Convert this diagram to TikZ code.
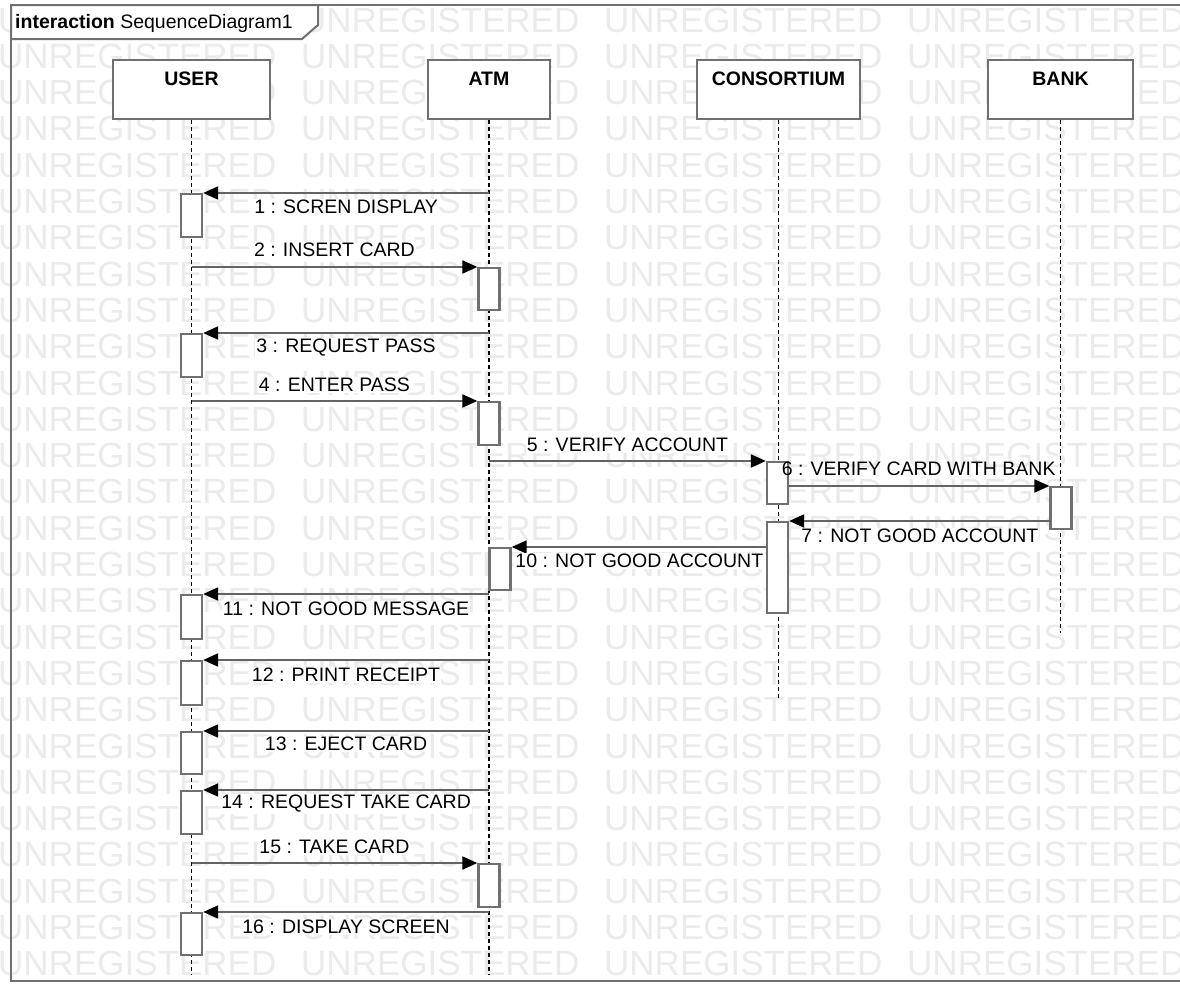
\documentclass[tikz,border=0pt]{standalone}
\usepackage{fontspec}
\setmainfont{Liberation Sans}
\usetikzlibrary{arrows.meta}
\definecolor{wm}{RGB}{235,235,235}
\definecolor{bdr}{RGB}{112,112,112}
\definecolor{msgc}{RGB}{100,100,100}
\begin{document}
\begin{tikzpicture}[x=1pt,y=-1pt,
  wmark/.style={anchor=west,inner sep=0pt,text=wm,font=\fontsize{35pt}{40pt}\selectfont},
  frame/.style={draw=bdr,line width=2pt},
  hbox/.style={draw=bdr,line width=2.4pt,fill=white,anchor=north,inner sep=0pt},
  htext/.style={font=\fontsize{19.5pt}{23pt}\selectfont\bfseries,inner sep=0pt},
  life/.style={draw=black,line width=1.4pt,dash pattern=on 4pt off 3pt},
  act/.style={draw=bdr,line width=2.3pt,fill=white,minimum width=21pt,inner sep=0pt,anchor=north},
  msg/.style={draw=msgc,line width=2pt,-{Triangle[length=15pt,width=13pt,color=black,fill=black]}},
  lbl/.style={fill=white,inner sep=1pt,font=\fontsize{19.5pt}{23pt}\selectfont},
  lblnf/.style={inner sep=1pt,font=\fontsize{19.5pt}{23pt}\selectfont}
]
\useasboundingbox (0,0) rectangle (1180,985);
\clip (0,0) rectangle (1180,985);
\fill[white] (0,0) rectangle (1180,985);

% watermark
\foreach \k in {0,...,26}{
  \foreach \xx [count=\c] in {-2,301,604,907}{
    \node[wmark] (w\k c\c) at (\xx,{20+36.3*\k}) {UNREGISTERED};
  }
}

% frame and title tab
\draw[frame] (11,5) rectangle (1200,981);
\draw[frame,fill=white] (11,5) -- (318,5) -- (318,25) -- (302,39) -- (11,39) -- cycle;
\node[anchor=west,inner sep=0pt,font=\fontsize{19.5pt}{23pt}\selectfont] (title) at (15,23) {\textbf{interaction} SequenceDiagram1};

% lifeline end points
\coordinate (userE) at (191.5,975);
\coordinate (atmE) at (489,975);
\coordinate (consE) at (778.5,700);
\coordinate (bankE) at (1060.5,633);

% header boxes
\node[hbox,minimum width=157pt,minimum height=59pt] (user) at (191.5,59) {};
\node[hbox,minimum width=122pt,minimum height=59pt] (atm) at (489,59) {};
\node[hbox,minimum width=163pt,minimum height=59pt] (cons) at (778.5,59) {};
\node[hbox,minimum width=145pt,minimum height=59pt] (bank) at (1060.5,59) {};
\node[htext] (userT) at (191.5,79) {USER};
\node[htext] (atmT) at (489,79) {ATM};
\node[htext] (consT) at (778.5,79) {CONSORTIUM};
\node[htext] (bankT) at (1060.5,79) {BANK};

% lifelines
\draw[life] (user.south) -- (userE);
\draw[life] (atm.south) -- (atmE);
\draw[life] (cons.south) -- (consE);
\draw[life] (bank.south) -- (bankE);

% activations
\node[act,minimum height=43pt] (a1) at (191.5,193) {};
\node[act,minimum height=42pt] (a2) at (489,267) {};
\node[act,minimum height=43pt] (a3) at (191.5,333) {};
\node[act,minimum height=43pt] (a4) at (489,401) {};
\node[act,minimum height=42pt] (a5) at (777.5,461) {};
\node[act,minimum height=42pt] (a6) at (1061,486) {};
\node[act,minimum height=91pt] (a7) at (777.5,521) {};
\node[act,minimum height=42pt] (a10) at (500,547) {};
\node[act,minimum height=44pt] (a11) at (191.5,594) {};
\node[act,minimum height=44pt] (a12) at (191.5,660) {};
\node[act,minimum height=42pt] (a13) at (191.5,731) {};
\node[act,minimum height=43pt] (a14) at (191.5,790) {};
\node[act,minimum height=43pt] (a15) at (489,863) {};
\node[act,minimum height=42pt] (a16) at (191.5,912) {};

% message start points
\coordinate (s1) at (489,193);
\coordinate (s2) at (191.5,267);
\coordinate (s3) at (489,333);
\coordinate (s4) at (191.5,401);
\coordinate (s5) at (489,461);
\coordinate (s6) at (788,486);
\coordinate (s7) at (1050.5,521);
\coordinate (s10) at (767,547);
\coordinate (s11) at (489,594);
\coordinate (s12) at (489,660);
\coordinate (s13) at (489,731);
\coordinate (s14) at (489,790);
\coordinate (s15) at (191.5,863);
\coordinate (s16) at (489,912);

% messages
\draw[msg] (s1) -- (a1.north east) node[lbl,midway,yshift=-14pt] (l1) {1 : SCREN DISPLAY};
\draw[msg] (s2) -- (a2.north west) node[lbl,midway,yshift=17pt] (l2) {2 : INSERT CARD};
\draw[msg] (s3) -- (a3.north east) node[lbl,midway,yshift=-15pt] (l3) {3 : REQUEST PASS};
\draw[msg] (s4) -- (a4.north west) node[lbl,midway,yshift=16pt] (l4) {4 : ENTER PASS};
\draw[msg] (s5) -- (a5.north west) node[lbl,midway,yshift=16pt] (l5) {5 : VERIFY ACCOUNT};
\draw[msg] (s6) -- (a6.north west) node[lblnf,midway,yshift=17pt] (l6) {6 : VERIFY CARD WITH BANK};
\draw[msg] (s7) -- (a7.north east) node[lbl,midway,yshift=-15pt] (l7) {7 : NOT GOOD ACCOUNT};
\draw[msg] (s10) -- (a10.north east) node[lbl,midway,yshift=-14pt] (l10) {10 : NOT GOOD ACCOUNT};
\draw[msg] (s11) -- (a11.north east) node[lbl,midway,yshift=-15pt] (l11) {11 : NOT GOOD MESSAGE};
\draw[msg] (s12) -- (a12.north east) node[lbl,midway,yshift=-15pt] (l12) {12 : PRINT RECEIPT};
\draw[msg] (s13) -- (a13.north east) node[lbl,midway,yshift=-13pt] (l13) {13 : EJECT CARD};
\draw[msg] (s14) -- (a14.north east) node[lbl,midway,yshift=-14pt] (l14) {14 : REQUEST TAKE CARD};
\draw[msg] (s15) -- (a15.north west) node[lbl,midway,yshift=16pt] (l15) {15 : TAKE CARD};
\draw[msg] (s16) -- (a16.north east) node[lbl,midway,yshift=-15pt] (l16) {16 : DISPLAY SCREEN};
\end{tikzpicture}
\end{document}
